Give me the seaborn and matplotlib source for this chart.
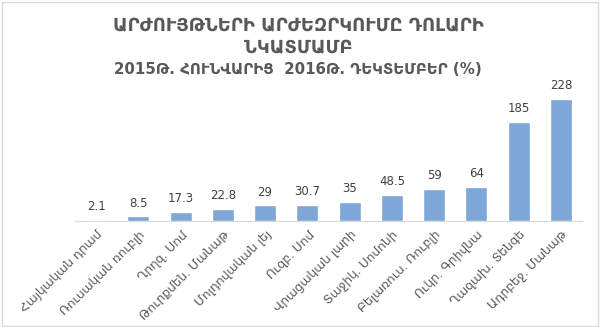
import matplotlib
matplotlib.use("Agg")
import matplotlib.pyplot as plt
import seaborn as sns
import pandas as pd
from matplotlib.patches import Rectangle

categories = ["Հայկական դրամ", "Ռուսական ռուբլի", "Ղրղզ. Սոմ", "Թուրքմեն. Մանաթ",
              "Մոլդովական լեյ", "Ուզբ. Սոմ", "Վրացական լարի", "Տաջիկ. Սոմոնի",
              "Բելառուս. Ռուբլի", "Ուկր. Գրիվնա", "Ղազախ. Տենգե", "Ադրբեջ. Մանաթ"]
values = [2.1, 8.5, 17.3, 22.8, 29, 30.7, 35, 48.5, 59, 64, 185, 228]
value_labels = ["2.1", "8.5", "17.3", "22.8", "29", "30.7", "35", "48.5", "59", "64", "185", "228"]

title1 = "ԱՐԺՈՒՅԹՆԵՐԻ ԱՐԺԵԶՐԿՈՒՄԸ ԴՈԼԱՐԻ"
title2 = "ՆԿԱՏՄԱՄԲ"
subtitle = "2015Թ. ՀՈՒՆՎԱՐԻՑ  2016Թ. ԴԵԿՏԵՄԲԵՐ (%)"

sns.set_style("white")
plt.rcParams['font.family'] = ['DejaVu Sans']

df = pd.DataFrame({"cat": categories, "val": values})

fig = plt.figure(figsize=(6.0, 3.27), dpi=100)
# axes: x 75..582 px, y baseline 221 px, top 80 px
ax = fig.add_axes([75 / 600, 1 - 221 / 327, 507 / 600, 141 / 327])
sns.barplot(data=df, x="cat", y="val", color="#7EA6D6", saturation=1, width=0.52, ax=ax)
ax.set_ylim(0, 228 * 141 / 122)
ax.set_xlim(-0.5, len(categories) - 0.5)
ax.set_xlabel("")
ax.set_ylabel("")
ax.set_yticks([])
for s in ["top", "right", "left"]:
    ax.spines[s].set_visible(False)
ax.spines["bottom"].set_color("#D9D9D9")
ax.spines["bottom"].set_linewidth(0.8)
ax.spines["bottom"].set_zorder(0.5)
ax.tick_params(axis="x", length=0, pad=5)
ax.set_xticks(range(len(categories)))
ax.set_xticklabels(categories, rotation=45, ha="right", rotation_mode="anchor",
                   fontsize=8.8, color="#595959")

for i, (v, lab) in enumerate(zip(values, value_labels)):
    ax.annotate(lab, (i, v), xytext=(0, 5), textcoords="offset points",
                ha="center", va="bottom", fontsize=8.5, color="#404040")

fig.text(0.5 - 2 / 600, 1 - 26 / 327, title1, ha="center", va="center", fontsize=13,
         fontweight="bold", color="#595959")
fig.text(0.5 - 2 / 600, 1 - 48 / 327, title2, ha="center", va="center", fontsize=13,
         fontweight="bold", color="#595959")
fig.text(0.5 - 2 / 600, 1 - 69 / 327, subtitle, ha="center", va="center", fontsize=10.8,
         fontweight="bold", color="#595959")

fig.patches.append(Rectangle((1.5 / 600, 1.5 / 327), 596 / 600, 324 / 327,
                             transform=fig.transFigure, fill=False,
                             edgecolor="#D9D9D9", linewidth=1))

fig.savefig("out.png", dpi=100)
